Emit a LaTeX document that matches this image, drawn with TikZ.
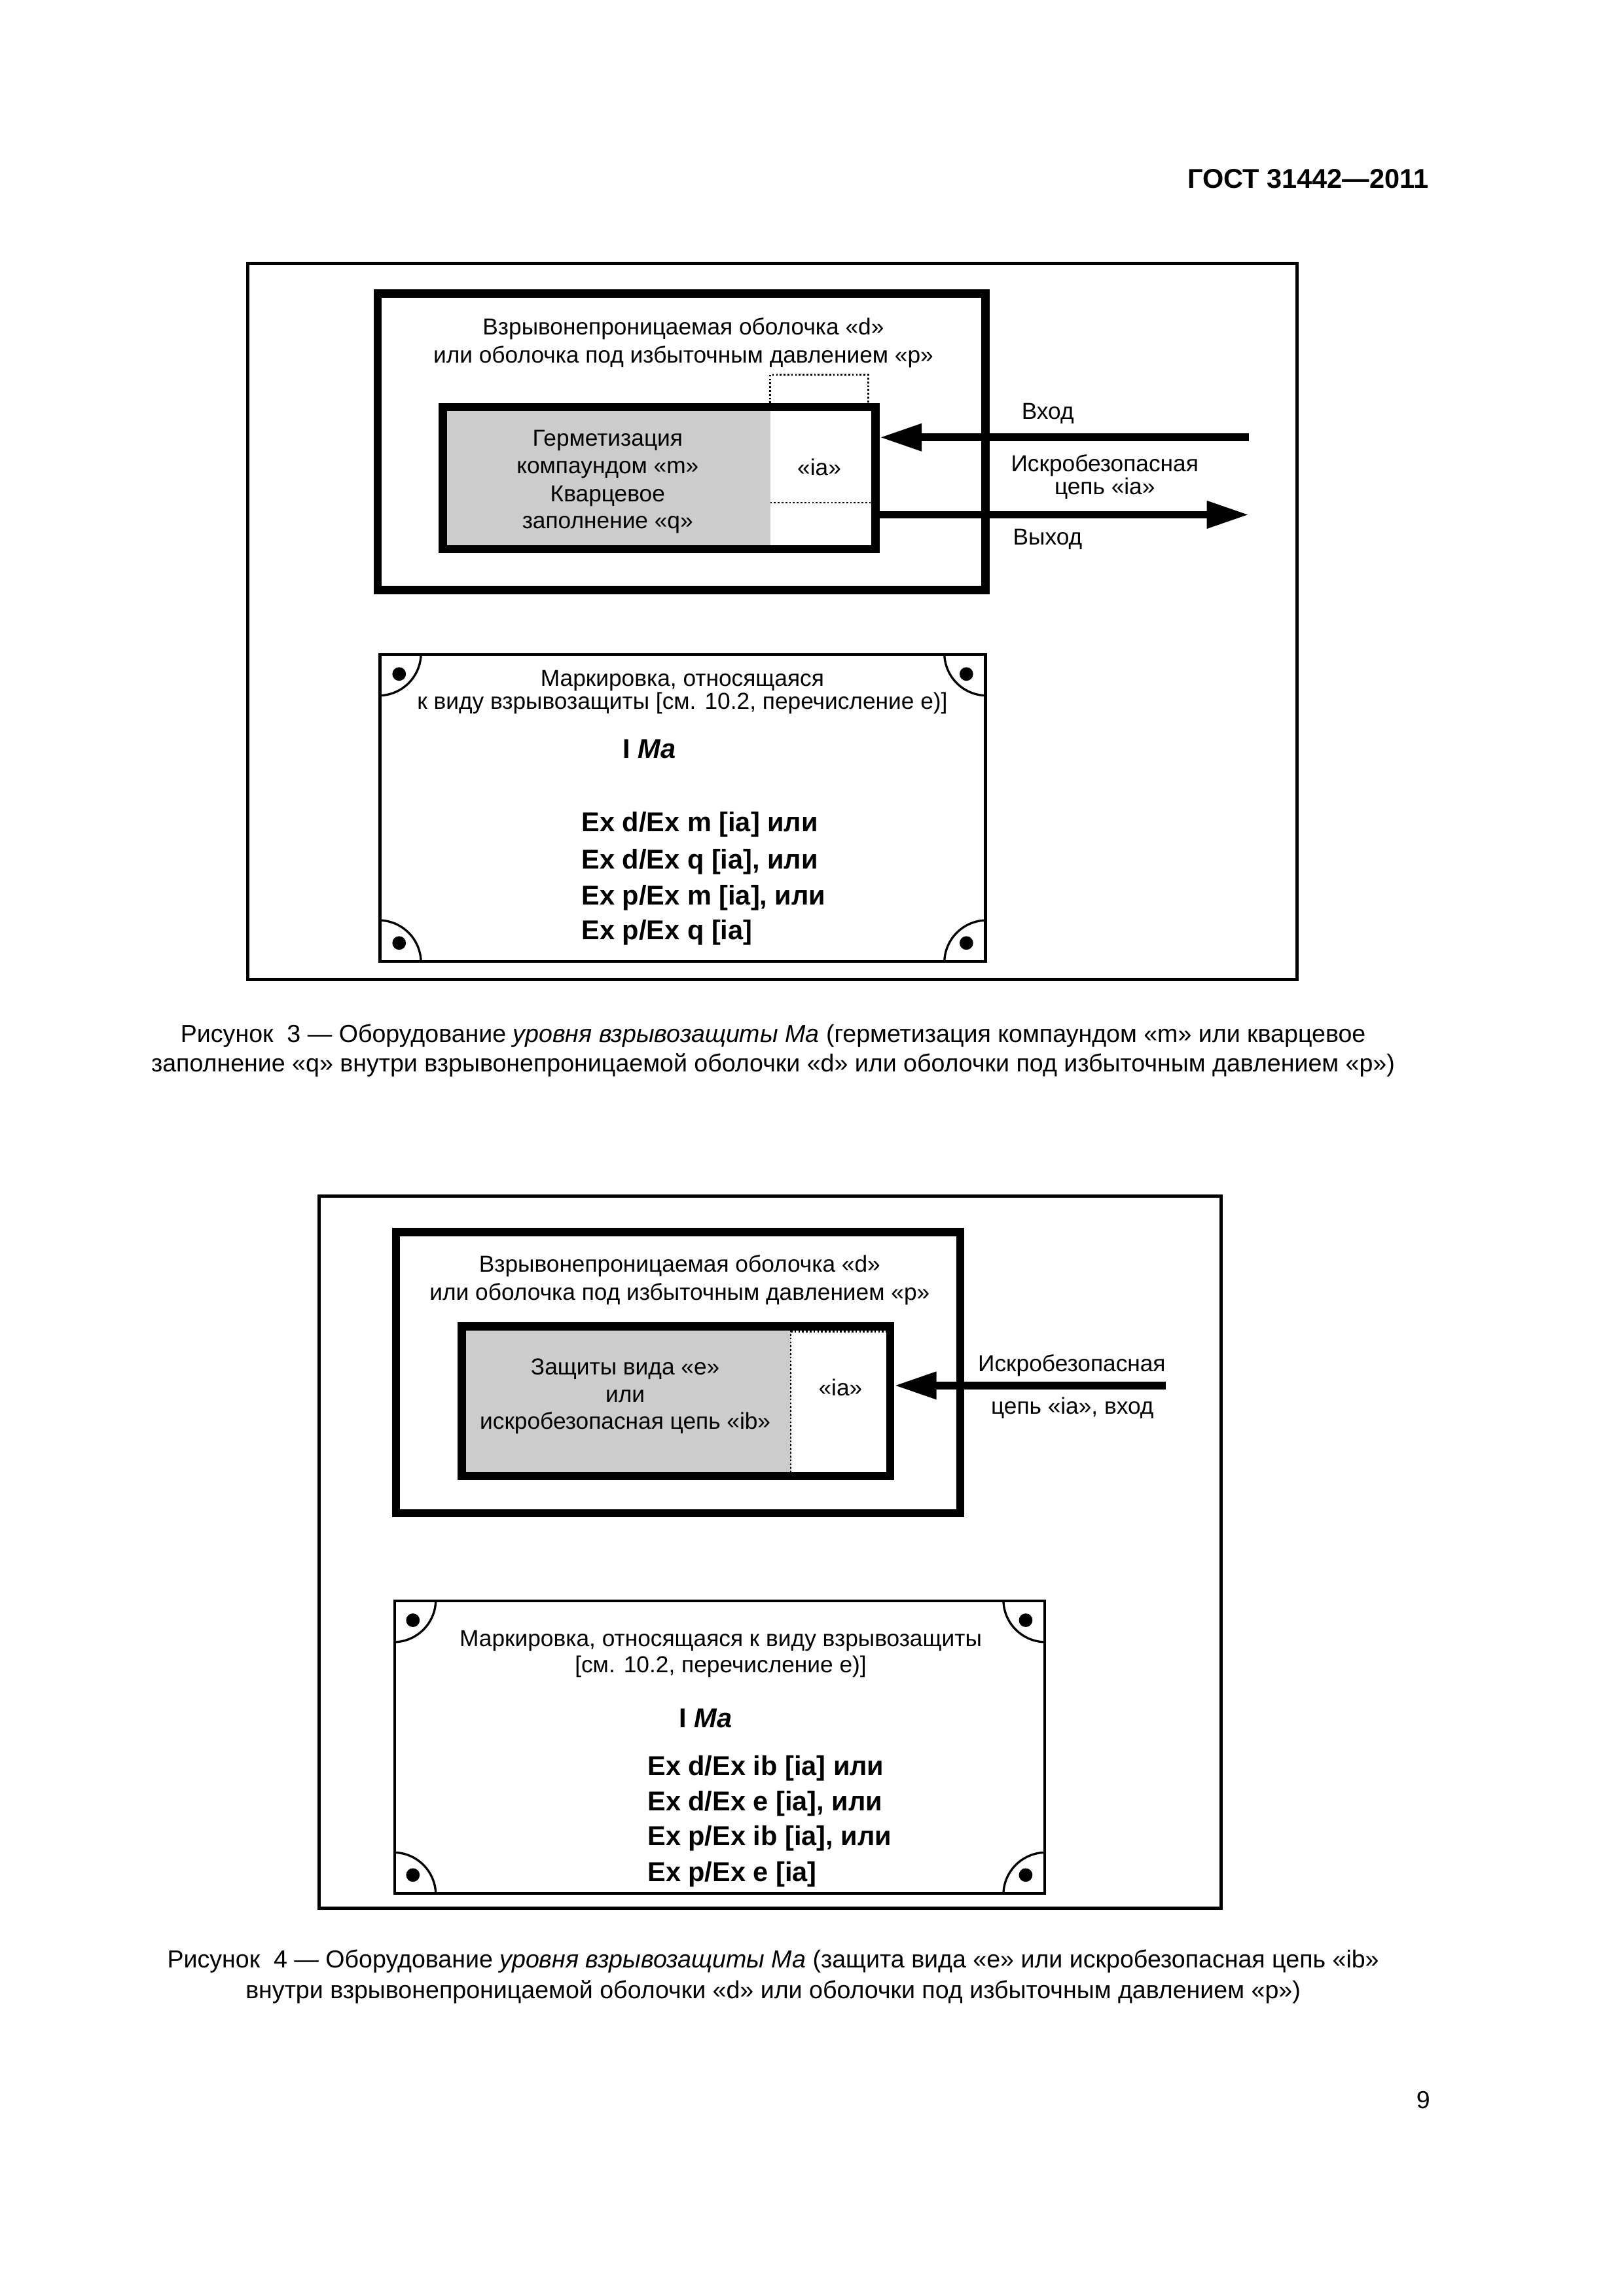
\documentclass[tikz,border=0pt]{standalone}
\usepackage{fontspec}
\setmainfont{Liberation Sans}
\usetikzlibrary{arrows.meta,fit}
\tikzset{
  lbl/.style={anchor=base, inner sep=0pt, font=\fontsize{8.5}{10}\selectfont},
  exline/.style={anchor=base west, inner sep=0pt, font=\bfseries\fontsize{10}{12}\selectfont},
  ima/.style={anchor=base, inner sep=0pt, font=\bfseries\fontsize{10}{12}\selectfont},
  capline/.style={anchor=base, inner sep=0pt, font=\fontsize{9.05}{11}\selectfont},
  pageframe/.style={draw, line width=1.2pt, inner sep=0pt},
  wallbox/.style={draw, line width=3pt, inner sep=0pt},
  platebox/.style={draw, line width=1pt, inner sep=0pt},
  fillarea/.style={fill=black!20},
  dotline/.style={line width=0.65pt, dash pattern=on 0.65pt off 0.75pt},
  arrowline/.style={line width=2.8pt, -{Triangle[length=15.5pt,width=9.5pt]}},
  cornerarc/.style={line width=0.8pt},
  screwdot/.style={fill},
}
\begin{document}
\begin{tikzpicture}[x=0.18937mm,y=-0.18941mm]
\useasboundingbox (0,0) rectangle (1109,1568);

% header
\node[anchor=base east, inner sep=0pt, font=\bfseries\fontsize{10}{12}\selectfont] (hdr) at (976,128.7) {ГОСТ 31442—2011};

% ================= Figure 3 =================
\node[pageframe, fit={(169,180) (886,669)}] (frame3) {};
\node[wallbox, fit={(258,200.5) (673,403)}] (encl3) {};
\node[lbl] (e3a) at (466.7,228.6) {Взрывонепроницаемая оболочка «d»};
\node[lbl] (e3b) at (466.7,247.9) {или оболочка под избыточным давлением «p»};

\fill[fillarea] (302.5,278) rectangle (526,375);
\draw[dotline] (526,278) -- (526,256) -- (593,256) -- (593,278);
\draw[dotline] (526,343.3) -- (597,343.3);
\node[wallbox, fit={(302.5,278) (598,375)}] (inner3) {};
\node[lbl] (g3a) at (415,304.5) {Герметизация};
\node[lbl] (g3b) at (415,323.3) {компаундом «m»};
\node[lbl] (g3c) at (415,342.6) {Кварцевое};
\node[lbl] (g3d) at (415,361) {заполнение «q»};
\node[lbl] (ia3) at (559.5,324.9) {«ia»};

\coordinate (src3) at (853,298.7);
\coordinate (dst3) at (853,351.5);
\draw[arrowline] (src3) -- (src3 -| inner3.east);
\draw[arrowline] (dst3 -| inner3.east) -- (dst3);
\node[lbl] (in3) at (715.6,286.3) {Вход};
\node[lbl] (c3a) at (754.5,322.1) {Искробезопасная};
\node[lbl] (c3b) at (754.5,337.5) {цепь «ia»};
\node[lbl] (out3) at (715.5,372.3) {Выход};

% plate 3
\node[platebox, fit={(259.5,447) (673,656.5)}] (plate3) {};
\begin{scope}
  \clip (259.5,447) rectangle (673,656.5);
  \draw[cornerarc] (plate3.north west) circle[radius=15.6pt];
  \draw[cornerarc] (plate3.north east) circle[radius=15.6pt];
  \draw[cornerarc] (plate3.south west) circle[radius=15.6pt];
  \draw[cornerarc] (plate3.south east) circle[radius=15.6pt];
\end{scope}
\fill[screwdot] (272.6,460.3) circle[radius=2.5pt];
\fill[screwdot] (660,460.3) circle[radius=2.5pt];
\fill[screwdot] (272.6,644) circle[radius=2.5pt];
\fill[screwdot] (660,644) circle[radius=2.5pt];
\node[lbl] (p3a) at (466,468.5) {Маркировка, относящаяся};
\node[lbl] (p3b) at (466,484.2) {к виду взрывозащиты [см. 10.2, перечисление е)]};
\node[ima] (ma3) at (443.5,518) {I \textit{Ma}};
\node[exline] (x3a) at (396.9,567.9) {Ex d/Ex m [ia] или};
\node[exline] (x3b) at (396.9,593.3) {Ex d/Ex q [ia], или};
\node[exline] (x3c) at (396.9,617.9) {Ex p/Ex m [ia], или};
\node[exline] (x3d) at (396.9,641.7) {Ex p/Ex q [ia]};

\node[capline] (cap3a) at (528,712) {Рисунок~~3 — Оборудование \textit{уровня взрывозащиты Ma} (герметизация компаундом «m» или кварцевое};
\node[capline] (cap3b) at (528,732) {заполнение «q» внутри взрывонепроницаемой оболочки «d» или оболочки под избыточным давлением «p»)};

% ================= Figure 4 =================
\node[pageframe, fit={(218,817) (834,1303)}] (frame4) {};
\node[wallbox, fit={(270.4,841.5) (655.8,1033.4)}] (encl4) {};
\node[lbl] (e4a) at (464.2,868.5) {Взрывонепроницаемая оболочка «d»};
\node[lbl] (e4b) at (464.2,887.7) {или оболочка под избыточным давлением «p»};

\fill[fillarea] (315.4,905.7) rectangle (540,1008);
\draw[dotline] (540,905.7) -- (540,1008);
\draw[dotline] (540,909.5) -- (608,909.5);
\node[wallbox, fit={(315.4,905.7) (608,1008)}] (inner4) {};
\node[lbl] (g4a) at (427,939) {Защиты вида «е»};
\node[lbl] (g4b) at (427,957.5) {или};
\node[lbl] (g4c) at (427,976.1) {искробезопасная цепь «ib»};
\node[lbl] (ia4) at (574,953.1) {«ia»};

\coordinate (src4) at (796.4,946.2);
\draw[arrowline] (src4) -- (src4 -| inner4.east);
\node[lbl] (c4a) at (732,936.7) {Искробезопасная};
\node[lbl] (c4b) at (732.4,965.7) {цепь «ia», вход};

% plate 4
\node[platebox, fit={(269.6,1093.4) (713.3,1293.1)}] (plate4) {};
\begin{scope}
  \clip (269.6,1093.4) rectangle (713.3,1293.1);
  \draw[cornerarc] (plate4.north west) circle[radius=15.6pt];
  \draw[cornerarc] (plate4.north east) circle[radius=15.6pt];
  \draw[cornerarc] (plate4.south west) circle[radius=15.6pt];
  \draw[cornerarc] (plate4.south east) circle[radius=15.6pt];
\end{scope}
\fill[screwdot] (282,1106.5) circle[radius=2.5pt];
\fill[screwdot] (700.5,1106.5) circle[radius=2.5pt];
\fill[screwdot] (282,1280.5) circle[radius=2.5pt];
\fill[screwdot] (700.5,1280.5) circle[radius=2.5pt];
\node[lbl] (p4a) at (492.2,1124.2) {Маркировка, относящаяся к виду взрывозащиты};
\node[lbl] (p4b) at (492.2,1142.2) {[см. 10.2, перечисление е)]};
\node[ima] (ma4) at (482,1180) {I \textit{Ma}};
\node[exline] (x4a) at (441.9,1212.6) {Ex d/Ex ib [ia] или};
\node[exline] (x4b) at (441.9,1236.5) {Ex d/Ex e [ia], или};
\node[exline] (x4c) at (441.9,1260.3) {Ex p/Ex ib [ia], или};
\node[exline] (x4d) at (441.9,1284.9) {Ex p/Ex e [ia]};

\node[capline] (cap4a) at (528,1344) {Рисунок~~4 — Оборудование \textit{уровня взрывозащиты Ma} (защита вида «е» или искробезопасная цепь «ib»};
\node[capline] (cap4b) at (528,1365) {внутри взрывонепроницаемой оболочки «d» или оболочки под избыточным давлением «p»)};

\node[capline] (pgno) at (972,1439.7) {9};
\end{tikzpicture}
\end{document}
